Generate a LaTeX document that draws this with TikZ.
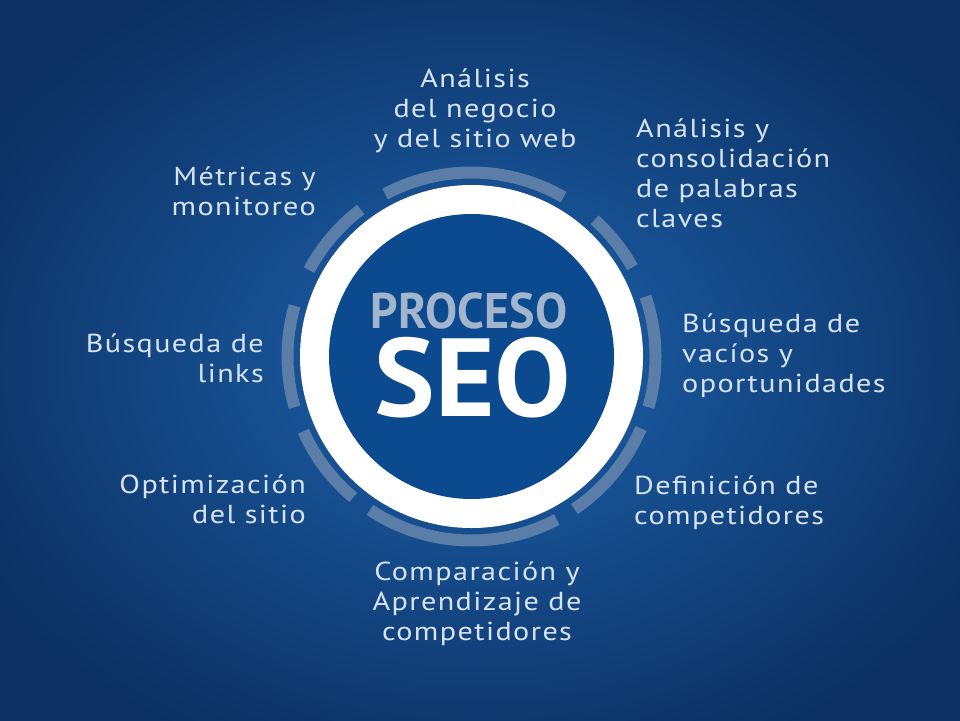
\documentclass[tikz,border=0pt]{standalone}
\usepackage{fontspec}
\setmainfont{PT Sans}
\newfontfamily\lblfont{PT Sans}[FakeStretch=1.16, LetterSpace=5.5]
\definecolor{bgA}{HTML}{185599}
\definecolor{bgB}{HTML}{0C3062}
\definecolor{discc}{HTML}{0B4A8F}
\definecolor{arcc}{HTML}{5A7EA8}
\definecolor{lblc}{HTML}{D8E3F0}
\definecolor{procc}{HTML}{A2B5CC}
\pgfdeclareradialshading{bgshade}{\pgfpoint{0bp}{0bp}}{color(0bp)=(bgA); color(8bp)=(bgA); color(30bp)=(bgB); color(50bp)=(bgB)}
\newcommand\mytabL[1]{\begin{tabular}[t]{@{}l@{}}#1\end{tabular}}
\newcommand\mytabR[1]{\begin{tabular}[t]{@{}r@{}}#1\end{tabular}}
\newcommand\mytabC[1]{\begin{tabular}[t]{@{}c@{}}#1\end{tabular}}
\tikzset{
  lbl/.style={font=\lblfont\fontsize{26}{30}\selectfont, text=lblc, inner sep=0pt},
  arcst/.style={draw=arcc, line width=12pt, line cap=butt},
}
\begin{document}
\begin{tikzpicture}[x=1pt,y=-1pt]
\useasboundingbox (0,0) rectangle (960,720);
\shade[shading=bgshade] (0,0) rectangle (960,720);
\coordinate (c) at (471.5,356.5);
\foreach \a/\b in {60/118, 127/152, 164/196, 204/230, 236.5/297.6, 304/337, 344/379, 29/48}
  \draw[arcst] (c) ++(-\a:184) arc[start angle=-\a, end angle=-\b, radius=184];
\node[circle, fill=white, minimum size=343pt, inner sep=0pt] (ring) at (c) {};
\node[circle, fill=discc, minimum size=285pt, inner sep=0pt] (disc) at (c) {};
\node[anchor=base, inner sep=0pt, text depth=0pt, text=procc, font=\bfseries\fontsize{50}{50}\selectfont] (proc) at (469,328) {\scalebox{0.96}[1]{PROCESO}};
\node[anchor=base, inner sep=0pt, text height=78pt, text depth=0pt, text=white, font=\bfseries\fontsize{111}{111}\selectfont] (seo) at (473,416) {\scalebox{1.03}[1]{SEO}};
\node[lbl, anchor=base] (t1) at (475,87) {\mytabC{Análisis\\del negocio\\y del sitio web}};
\node[lbl, anchor=base west] (t2) at (636,137) {\mytabL{Análisis y\\consolidación\\de palabras\\claves}};
\node[lbl, anchor=base west] (t3) at (682,332) {\mytabL{Búsqueda de\\vacíos y\\oportunidades}};
\node[lbl, anchor=base west] (t4) at (634,494) {\mytabL{Definición de\\competidores}};
\node[lbl, anchor=base] (t5) at (477,580) {\mytabC{Comparación y\\Aprendizaje de\\competidores}};
\node[lbl, anchor=base east] (t6) at (306,493) {\mytabR{Optimización\\del sitio}};
\node[lbl, anchor=base east] (t7) at (264,352) {\mytabR{Búsqueda de\\links}};
\node[lbl, anchor=base east] (t8) at (316,185) {\mytabR{Métricas y\\monitoreo}};
\end{tikzpicture}
\end{document}
